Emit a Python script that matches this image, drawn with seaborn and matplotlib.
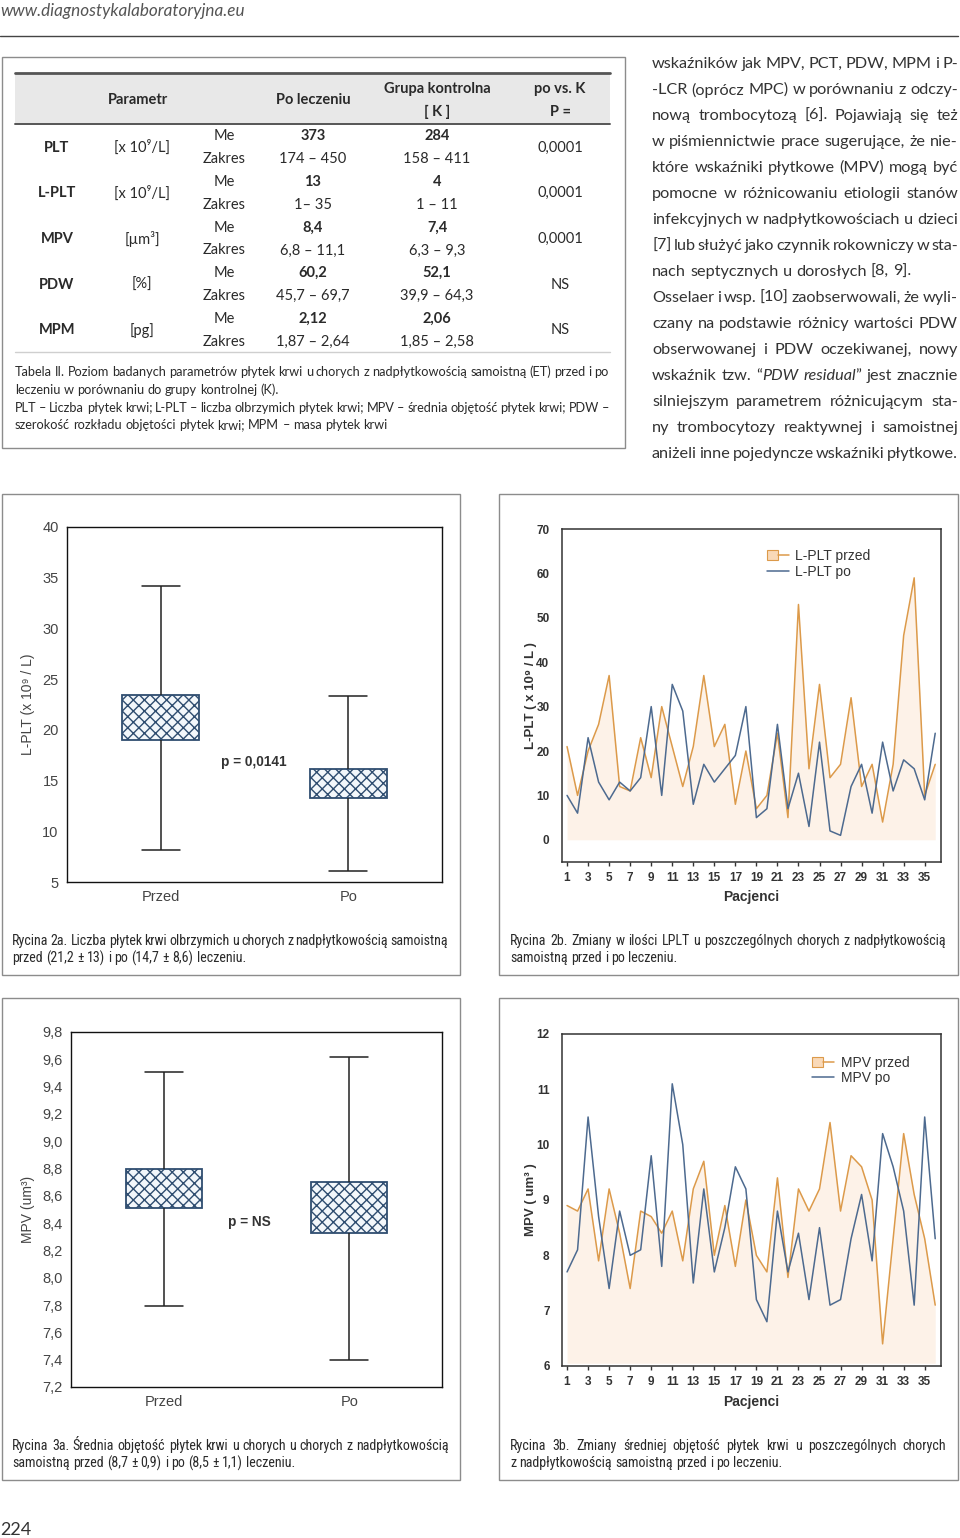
import numpy as np
import pandas as pd
import matplotlib
matplotlib.use("Agg")
import matplotlib.pyplot as plt
import seaborn as sns
from matplotlib import font_manager
from matplotlib.patches import Rectangle, Patch
from matplotlib.lines import Line2D
from matplotlib.legend_handler import HandlerTuple

# ------------------------------------------------------------------ data
site_url = "www.diagnostykalaboratoryjna.eu"
page_number = "224"

tab_params = ["PLT", "L-PLT", "MPV", "PDW", "MPM"]
tab_units = ["[x 10⁹/L]", "[x 10⁹/L]", "[µm³]", "[%]", "[pg]"]
tab_po_me = ["373", "13", "8,4", "60,2", "2,12"]
tab_po_range = ["174 – 450", "1– 35", "6,8 – 11,1", "45,7 – 69,7", "1,87 – 2,64"]
tab_k_me = ["284", "4", "7,4", "52,1", "2,06"]
tab_k_range = ["158 – 411", "1 – 11", "6,3 – 9,3", "39,9 – 64,3", "1,85 – 2,58"]
tab_p = ["0,0001", "0,0001", "0,0001", "NS", "NS"]

table_caption = [
    ("Tabela II. Poziom badanych parametrów płytek krwi u chorych z nadpłytkowością samoistną (ET) przed i po", True),
    ("leczeniu w porównaniu do grupy kontrolnej (K).", False),
    ("PLT – Liczba płytek krwi; L-PLT – liczba olbrzymich płytek krwi; MPV – średnia objętość płytek krwi; PDW –", True),
    ("szerokość rozkładu objętości płytek krwi; MPM – masa płytek krwi", False),
]

body_lines = [
    ("wskaźników jak MPV, PCT, PDW, MPM i P-", True),
    ("-LCR (oprócz MPC) w porównaniu z odczy-", True),
    ("nową trombocytozą [6]. Pojawiają się też", True),
    ("w piśmiennictwie prace sugerujące, że nie-", True),
    ("które wskaźniki płytkowe (MPV) mogą być", True),
    ("pomocne w różnicowaniu etiologii stanów", True),
    ("infekcyjnych w nadpłytkowościach u dzieci", True),
    ("[7] lub służyć jako czynnik rokowniczy w sta-", True),
    ("nach septycznych u dorosłych [8, 9].", False),
    ("Osselaer i wsp. [10] zaobserwowali, że wyli-", True),
    ("czany na podstawie różnicy wartości PDW", True),
    ("obserwowanej i PDW oczekiwanej, nowy", True),
    ("wskaźnik tzw. “{PDW} {residual}” jest znacznie", True),
    ("silniejszym parametrem różnicującym sta-", True),
    ("ny trombocytozy reaktywnej i samoistnej", True),
    ("aniżeli inne pojedyncze wskaźniki płytkowe.", True),
]

cap_2a = ["Rycina 2a. Liczba płytek krwi olbrzymich u chorych z nadpłytkowością samoistną",
          "przed (21,2 ± 13) i po (14,7 ± 8,6) leczeniu."]
cap_2b = ["Rycina 2b. Zmiany w ilości LPLT u poszczególnych chorych z nadpłytkowością",
          "samoistną przed i po leczeniu."]
cap_3a = ["Rycina 3a. Średnia objętość płytek krwi u chorych u chorych z nadpłytkowością",
          "samoistną przed (8,7 ± 0,9) i po (8,5 ± 1,1) leczeniu."]
cap_3b = ["Rycina 3b. Zmiany średniej objętość płytek krwi u poszczególnych chorych",
          "z nadpłytkowością samoistną przed i po leczeniu."]

box_groups = ["Przed", "Po"]
# whisker low, box low, mean, box high, whisker high
lplt_box_przed = [8.2, 19.0, 21.2, 23.4, 34.2]
lplt_box_po = [6.1, 13.3, 14.7, 16.1, 23.3]
mpv_box_przed = [7.79, 8.51, 8.7, 8.80, 9.51]
mpv_box_po = [7.40, 8.33, 8.5, 8.70, 9.62]
lplt_p_text = "p = 0,0141"
mpv_p_text = "p = NS"
lplt_box_ticks = [5, 10, 15, 20, 25, 30, 35, 40]
mpv_box_ticks = [7.2, 7.4, 7.6, 7.8, 8.0, 8.2, 8.4, 8.6, 8.8, 9.0, 9.2, 9.4, 9.6, 9.8]

patients = list(range(1, 37))
lplt_przed = [21, 10, 20, 26, 37, 12, 11, 23, 14, 30, 21, 12, 21, 37, 21, 26, 8, 20,
              7, 10, 24, 5, 53, 16, 35, 14, 17, 32, 12, 17, 4, 17, 46, 59, 10, 17]
lplt_po = [10, 6, 23, 13, 9, 13, 11, 14, 30, 10, 35, 29, 8, 17, 13, 16, 19, 30,
           5, 7, 26, 7, 15, 3, 22, 2, 1, 12, 17, 6, 22, 11, 18, 16, 9, 24]
mpv_przed = [8.9, 8.8, 9.2, 7.9, 9.2, 8.4, 7.4, 8.8, 8.7, 8.4, 8.8, 7.9, 9.2, 9.7, 8.0, 8.9, 7.8, 9.0,
             8.0, 7.7, 9.4, 7.6, 9.2, 8.8, 9.2, 10.4, 8.8, 9.8, 9.6, 9.0, 6.4, 8.3, 10.2, 9.1, 8.3, 7.1]
mpv_po = [7.7, 8.1, 10.5, 8.7, 7.4, 8.8, 8.0, 8.1, 9.8, 7.8, 11.1, 10.0, 7.5, 9.2, 7.7, 8.5, 9.6, 9.2,
          7.2, 6.8, 8.8, 7.7, 8.4, 7.2, 8.5, 7.1, 7.2, 8.3, 9.1, 7.9, 10.2, 9.6, 8.8, 7.1, 10.5, 8.3]
line_xticks = list(range(1, 36, 2))
lplt_line_ticks = [0, 10, 20, 30, 40, 50, 60, 70]
mpv_line_ticks = [6, 7, 8, 9, 10, 11, 12]

# ------------------------------------------------------------------ style
sns.set_theme(style="white")


def have(fam):
    try:
        font_manager.findfont(font_manager.FontProperties(family=fam), fallback_to_default=False)
        return True
    except Exception:
        return False


BODY = ["Lato", "DejaVu Sans"]
ARIAL = ["Liberation Sans", "DejaVu Sans"]
narrow_name = next((f for f in ["Liberation Sans Narrow", "Roboto Condensed", "Lato"] if have(f)), "Lato")
NARROW = [narrow_name, "DejaVu Sans"]
plt.rcParams["font.family"] = BODY
plt.rcParams["hatch.linewidth"] = 1.0

ORANGE = "#dc9a4a"
BLUE = "#4d6a8f"
FILL = "#fbe3cc"
HATCH = "#2f4d70"
FRAME = "#8c8c8c"
TXT = "#2a2a2a"

W, H = 960, 1538
fig = plt.figure(figsize=(W / 100, H / 100), dpi=100)
fig.patch.set_facecolor("white")
ax0 = fig.add_axes([0, 0, 1, 1], zorder=0)
ax0.set_xlim(0, W)
ax0.set_ylim(H, 0)
ax0.axis("off")
renderer = fig.canvas.get_renderer()


def parse_word(w):
    segs, buf, it = [], "", False
    for ch in w:
        if ch in "{}":
            if buf:
                segs.append((buf, it))
            buf = ""
            it = ch == "{"
        else:
            buf += ch
    if buf:
        segs.append((buf, it))
    return segs


def width_of(s, size, family, weight="normal", style="normal"):
    t = ax0.text(0, 0, s, fontsize=size, family=family, weight=weight, style=style)
    w = t.get_window_extent(renderer).width
    t.remove()
    return w


def text_line(x0, x1, y, line, size, family, color=TXT, justify=True):
    words = [parse_word(w) for w in line.split(" ")]
    rows = []
    for segs in words:
        row = []
        for s, it in segs:
            t = ax0.text(0, y, s, fontsize=size, family=family, style="italic" if it else "normal",
                         color=color, ha="left", va="center")
            row.append((t, t.get_window_extent(renderer).width))
        rows.append(row)
    wsum = [sum(w for _, w in r) for r in rows]
    if justify and len(rows) > 1:
        gap = (x1 - x0 - sum(wsum)) / (len(rows) - 1)
    else:
        gap = width_of("x x", size, family) - width_of("xx", size, family)
    x = x0
    for r in rows:
        for t, w in r:
            t.set_x(x)
            x += w
        x += gap


def px_axes(l, t, r, b):
    return fig.add_axes([l / W, 1 - b / H, (r - l) / W, (b - t) / H], zorder=2)


# ------------------------------------------------------------------ page header
ax0.text(0, 11, site_url, fontsize=12.3, style="italic", color="#555555", ha="left", va="center", family=BODY)
ax0.plot([0, 958], [36, 36], color="#444444", lw=1)
ax0.text(0, 1530, page_number, fontsize=13, color="#333333", ha="left", va="center", family=BODY)

# ------------------------------------------------------------------ table
ax0.add_patch(Rectangle((2, 57), 623, 391, fill=False, ec=FRAME, lw=1))
ax0.add_patch(Rectangle((15, 73), 595, 51, fc="#e8e8e8", ec="none"))
ax0.plot([15, 610], [73, 73], color="#555555", lw=2)
ax0.plot([15, 610], [124, 124], color="#555555", lw=1.4)
ax0.plot([15, 610], [352, 352], color="#cfcfcf", lw=1)
hdr = dict(fontsize=10.5, weight="bold", color=TXT, ha="center", va="center", family=BODY)
ax0.text(138, 100, "Parametr", **hdr)
ax0.text(313, 100, "Po leczeniu", **hdr)
ax0.text(437, 89, "Grupa kontrolna", **hdr)
ax0.text(437, 112, "[ K ]", **hdr)
ax0.text(560, 89, "po vs. K", **hdr)
ax0.text(560, 112, "P =", **hdr)
cell = dict(fontsize=10.5, color=TXT, ha="center", va="center", family=BODY)
for i in range(len(tab_params)):
    y_me = 136 + 45.75 * i
    y_zk = y_me + 23
    y_c = y_me + 11.5
    ax0.text(57, y_c, tab_params[i], weight="bold", **cell)
    ax0.text(142, y_c, tab_units[i], **cell)
    ax0.text(224, y_me, "Me", **cell)
    ax0.text(224, y_zk, "Zakres", **cell)
    ax0.text(313, y_me, tab_po_me[i], weight="bold", **cell)
    ax0.text(313, y_zk, tab_po_range[i], **cell)
    ax0.text(437, y_me, tab_k_me[i], weight="bold", **cell)
    ax0.text(437, y_zk, tab_k_range[i], **cell)
    ax0.text(560, y_c, tab_p[i], **cell)

for j, (ln, just) in enumerate(table_caption):
    text_line(15, 609, 372 + 17.8 * j, ln, 9.2, BODY, justify=just)

# ------------------------------------------------------------------ body text
for j, (ln, just) in enumerate(body_lines):
    text_line(652, 958, 64 + 26 * j, ln, 11.7, BODY, color="#333333", justify=just)

# ------------------------------------------------------------------ panel frames & captions
for (l, t, r, b) in [(2, 494, 460, 975), (499, 494, 958, 975), (2, 998, 460, 1480), (499, 998, 958, 1480)]:
    ax0.add_patch(Rectangle((l, t), r - l, b - t, fill=False, ec=FRAME, lw=1))
for cap, x0, x1, y in [(cap_2a, 12, 448, 941), (cap_2b, 510, 946, 941),
                       (cap_3a, 12, 449, 1446), (cap_3b, 510, 946, 1446)]:
    text_line(x0, x1, y, cap[0], 10.1, NARROW, justify=True)
    text_line(x0, x1, y + 17, cap[1], 10.1, NARROW, justify=False)


# ------------------------------------------------------------------ box plots
def box_panel(rect, przed, po, ticks, labels, ylabel, ylabel_x, ptext, pxy):
    ax = px_axes(*rect)
    df = pd.DataFrame({"grupa": [box_groups[0]] * len(przed) + [box_groups[1]] * len(po),
                       "wartosc": przed + po})
    sns.boxplot(data=df, x="grupa", y="wartosc", order=box_groups, ax=ax, whis=np.inf,
                width=0.41, color="white", saturation=1, linecolor="#222222", linewidth=1.1,
                showfliers=False, medianprops={"visible": False})
    for p in ax.patches:
        p.set_hatch("xxx")
        p.set_edgecolor(HATCH)
        p.set_facecolor("#f3f7fb")
        p.set_linewidth(1.3)
    ax.set_xlim(-0.5, 1.5)
    ax.set_ylim(ticks[0], ticks[-1])
    ax.set_yticks(ticks)
    ax.set_yticklabels(labels)
    ax.set_xlabel("")
    ax.set_ylabel(ylabel, fontsize=10, color="#444444", family=ARIAL)
    ax.yaxis.set_label_coords(ylabel_x, 0.5)
    ax.tick_params(axis="both", length=0, labelsize=10.5, labelcolor="#444444", pad=6)
    for lab in ax.get_xticklabels() + ax.get_yticklabels():
        lab.set_family(ARIAL)
    for s in ax.spines.values():
        s.set_visible(True)
        s.set_color("#111111")
        s.set_linewidth(1)
    ax.set_facecolor("white")
    ax.text(pxy[0], pxy[1], ptext, fontsize=9.8, weight="bold", color="#333333",
            ha="center", va="center", family=ARIAL)
    return ax


box_panel((67, 527, 442, 882), lplt_box_przed, lplt_box_po, lplt_box_ticks,
          [str(v) for v in lplt_box_ticks], "L-PLT (x 10⁹ / L)", -0.085, lplt_p_text, (0.497, 16.8))
box_panel((71, 1032, 442, 1387), mpv_box_przed, mpv_box_po, mpv_box_ticks,
          [f"{v:.1f}".replace(".", ",") for v in mpv_box_ticks], "MPV (um³)", -0.097, mpv_p_text, (0.462, 8.41))


# ------------------------------------------------------------------ line charts
def line_panel(rect, przed, po, ylim, yticks, fill_base, ylabel, names, leg_xy, xlab_y):
    ax = px_axes(*rect)
    ax.fill_between(patients, przed, fill_base, color=FILL, alpha=0.45, lw=0)
    sns.lineplot(x=patients, y=przed, ax=ax, color=ORANGE, linewidth=1.1, legend=False)
    sns.lineplot(x=patients, y=po, ax=ax, color=BLUE, linewidth=1.1, legend=False)
    ax.set_xlim(0.52, 36.55)
    ax.set_ylim(*ylim)
    ax.set_xticks(line_xticks)
    ax.set_yticks(yticks)
    ax.tick_params(axis="x", bottom=True, length=3, width=1, color="#333333", direction="out",
                   labelsize=8.5, labelcolor="#333333", pad=4)
    ax.tick_params(axis="y", left=False, length=0, labelsize=8.5, labelcolor="#333333", pad=9)
    for lab in ax.get_xticklabels() + ax.get_yticklabels():
        lab.set_family(ARIAL)
        lab.set_weight("bold")
    ax.set_xlabel("Pacjenci", fontsize=10, weight="bold", color="#333333", family=ARIAL)
    ax.xaxis.set_label_coords(0.5, xlab_y)
    ax.set_ylabel(ylabel, fontsize=9.5, weight="bold", color="#333333", family=ARIAL)
    ax.yaxis.set_label_coords(-0.066, 0.5)
    for s in ax.spines.values():
        s.set_visible(True)
        s.set_color("#333333")
        s.set_linewidth(1.1)
    ax.set_facecolor("white")
    h1 = (Patch(facecolor="#f9d9b8", edgecolor=ORANGE, lw=0.8), Line2D([], [], color=ORANGE, lw=1.1))
    h2 = Line2D([], [], color=BLUE, lw=1.1)
    leg = ax.legend([h1, h2], names, handler_map={tuple: HandlerTuple(ndivide=None, pad=0)},
                    loc="upper left", bbox_to_anchor=leg_xy, frameon=False,
                    borderpad=0, borderaxespad=0, handlelength=1.6, handletextpad=0.45,
                    labelspacing=0.12, prop={"family": ARIAL, "size": 10})
    for t in leg.get_texts():
        t.set_color("#333333")
    return ax


line_panel((562, 529, 941, 862), lplt_przed, lplt_po, (-5, 70), lplt_line_ticks, 0,
           "L-PLT ( x 10⁹ / L )", ["L-PLT przed", "L-PLT po"], (0.54, 0.94), -0.085)
line_panel((562, 1034, 941, 1366), mpv_przed, mpv_po, (6, 12), mpv_line_ticks, 6.05,
           "MPV ( um³ )", ["MPV przed", "MPV po"], (0.66, 0.935), -0.087)

fig.savefig("out.png", dpi=100, facecolor="white")
